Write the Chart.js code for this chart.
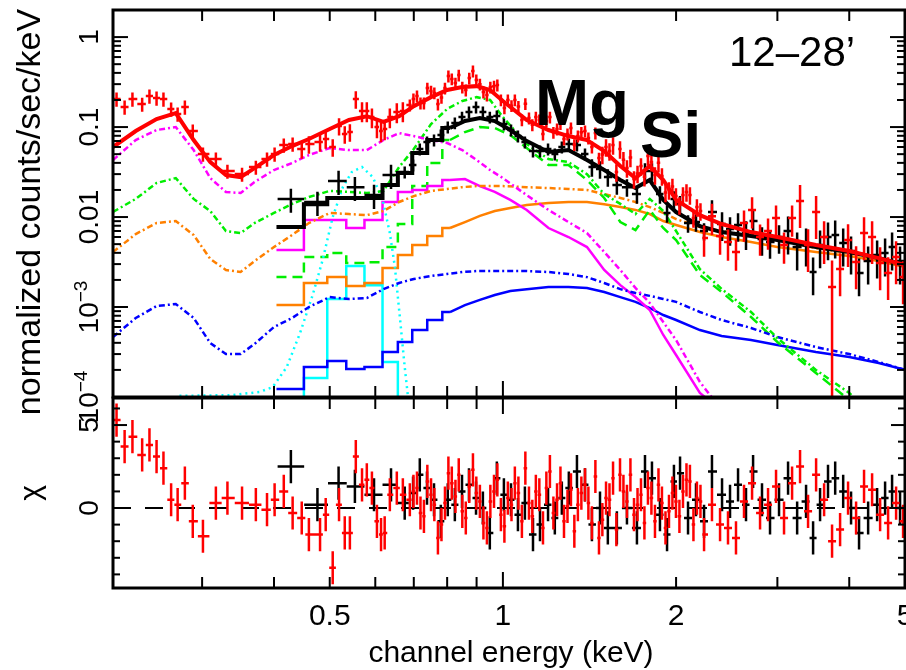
<!DOCTYPE html>
<html>
<head>
<meta charset="utf-8">
<script src="https://cdn.jsdelivr.net/npm/chart.js@4.4.0/dist/chart.umd.min.js"></script>
<style>
  html, body { margin: 0; padding: 0; background: #fff; overflow: hidden; }
  #lienzo { position: relative; width: 906px; height: 670px; }
  canvas { position: absolute; left: 0; top: 0; }
</style>
</head>
<body>
<div id="lienzo">
  <canvas id="espectro" width="906" height="670"></canvas>
  <canvas id="residuos" width="906" height="670"></canvas>
</div>
<script>
// === MODELOS BI (rojo) ===
const energiaBI = [0.21, 0.23, 0.25, 0.27, 0.29, 0.31, 0.33, 0.35, 0.37, 0.40, 0.43, 0.46, 0.50, 0.54, 0.58, 0.62, 0.66, 0.70, 0.75, 0.80,
  0.85, 0.90, 0.95, 1.0, 1.1, 1.2, 1.3, 1.4, 1.5, 1.6, 1.7, 1.8, 1.9, 2.0, 2.2, 2.4, 2.7, 3.0, 3.5, 4.0, 4.5, 5.0];
const modeloRojo = [0.060, 0.0903, 0.123, 0.143, 0.0718, 0.0408, 0.0293, 0.0278, 0.035, 0.0489, 0.0615, 0.0736, 0.095, 0.120, 0.132, 0.114, 0.132, 0.171, 0.215, 0.258,
  0.278, 0.285, 0.258, 0.195, 0.120, 0.0927, 0.0794, 0.0718, 0.054, 0.0369, 0.0271, 0.0369, 0.0258, 0.0155, 0.0105, 0.00836, 0.00681, 0.0060, 0.00489, 0.00419, 0.0035, 0.00293];
const biMagenta = [0.043, 0.0718, 0.0927, 0.1, 0.0555, 0.0271, 0.019, 0.0185, 0.0245, 0.0333, 0.0398, 0.0489, 0.0585, 0.0555, 0.0555, 0.0718, 0.0857, 0.0794, 0.0718, 0.0664,
  0.0555, 0.043, 0.0333, 0.0271, 0.0175, 0.012, 0.0088, 0.00664, 0.00409, 0.00258, 0.00163, 0.00111, 0.00068, 0.00043, 0.000147, 0.0000718, null, null, null, null, null, null];
const biVerde = [0.01137, 0.0159, 0.0239, 0.0271, 0.0159, 0.01166, 0.00699, 0.00664, 0.00858, 0.0111, 0.0140, 0.0167, 0.0195, 0.019, 0.0185, 0.0195, 0.0359, 0.057, 0.108, 0.159,
  0.195, 0.215, 0.200, 0.129, 0.0647, 0.0441, 0.0408, 0.030, 0.018, 0.014, 0.0108, 0.0159, 0.01166, 0.00699, 0.00264, 0.00159, 0.00088, 0.000452, 0.0002, 0.000111, 0.0000556, null];
const biNaranja = [0.00408, 0.00647, 0.00858, 0.00903, 0.00631, 0.00342, 0.00258, 0.00245, 0.00324, 0.00464, 0.00631, 0.00858, 0.0111, 0.0108, 0.0105, 0.01166, 0.0147, 0.0171, 0.0195, 0.0205,
  0.0215, 0.0221, 0.0221, 0.0221, 0.0215, 0.021, 0.0205, 0.020, 0.018, 0.0163, 0.0147, 0.0129, 0.0111, 0.0095, 0.00774, 0.00699, 0.00615, 0.0056, 0.00452, 0.00398, 0.00342, 0.00285];
const biAzul = [4.64e-4, 7.55e-4, 1.026e-3, 1.08e-3, 7.55e-4, 3.98e-4, 3.0e-4, 3.0e-4, 3.88e-4, 6.0e-4, 7.55e-4, 1.0e-3, 1.29e-3, 1.23e-3, 1.26e-3, 1.58e-3, 1.85e-3, 2.05e-3, 2.21e-3, 2.33e-3,
  2.45e-3, 2.51e-3, 2.51e-3, 2.51e-3, 2.51e-3, 2.45e-3, 2.33e-3, 2.15e-3, 1.85e-3, 1.58e-3, 1.43e-3, 1.33e-3, 1.23e-3, 1.14e-3, 8.8e-4, 7.17e-4, 5.85e-4, 4.64e-4, 3.59e-4, 3.0e-4, 2.45e-4, 2.0e-4];
const energiaCyanBI = [0.274, 0.339, 0.378, 0.398, 0.421, 0.444, 0.467, 0.486, 0.506, 0.527, 0.546, 0.569, 0.594, 0.618, 0.636, 0.649, 0.662, 0.675, 0.684, 0.695];
const biCyan = [1.03e-4, 1.05e-4, 1.14e-4, 1.29e-4, 2.15e-4, 5.14e-4, 1.36e-3, 3.33e-3, 0.01, 0.0215, 0.0316, 0.036, 0.0278, 0.0155, 0.00664, 0.00278, 7.74e-4, 2.15e-4, 1.0e-4, 5.5e-5];

// === MODELOS FI (negro) ===
const energiaFI = [0.404, 0.428, 0.475, 0.516, 0.553, 0.597, 0.639, 0.675, 0.717, 0.761, 0.809, 0.859, 0.912, 0.968, 1.03, 1.1, 1.2,
  1.3, 1.4, 1.5, 1.6, 1.7, 1.8, 1.9, 2.0, 2.2, 2.4, 2.7, 3.0, 3.5, 4.0, 4.5, 5.0];
const modeloNegro = [0.00774, 0.00774, 0.0139, 0.0163, 0.0163, 0.0163, 0.0227, 0.0308, 0.0514, 0.0718, 0.0975, 0.1167, 0.126, 0.1167, 0.0927, 0.0699, 0.0528,
  0.0555, 0.043, 0.0333, 0.0258, 0.021, 0.0258, 0.0155, 0.01137, 0.00794, 0.00681, 0.00615, 0.00555, 0.00464, 0.00409, 0.0035, 0.00293];
const fiMagenta = [0.0043, 0.0043, 0.00927, 0.00927, 0.00755, 0.00927, 0.0147, 0.019, 0.020, 0.0221, 0.0258, 0.0264, 0.0221, 0.019, 0.0155, 0.012, 0.00755,
  0.006, 0.00464, 0.00258, 0.00175, 0.00129, 0.000927, 0.000489, 0.000293, 0.000111, 0.00007, null, null, null, null, null, null];
const fiVerde = [0.00215, 0.00215, 0.0036, 0.00398, 0.00308, 0.00315, 0.00464, 0.00836, 0.0221, 0.0398, 0.0718, 0.088, 0.1, 0.0975, 0.0815, 0.0585, 0.0379,
  0.0379, 0.0258, 0.0163, 0.0088, 0.00717, 0.012, 0.00755, 0.00555, 0.00227, 0.00147, 0.000774, 0.000409, 0.000185, 0.0000926, null, null];
const fiNaranja = [0.00105, 0.00105, 0.00185, 0.00215, 0.00171, 0.00185, 0.00271, 0.00378, 0.00489, 0.00615, 0.00755, 0.0088, 0.0103, 0.01167, 0.0126, 0.0136, 0.0143,
  0.0147, 0.0147, 0.0139, 0.0129, 0.012, 0.0108, 0.00904, 0.00815, 0.00681, 0.006, 0.00528, 0.00464, 0.00409, 0.00369, 0.00324, 0.00278];
const fiAzul = [1.23e-4, 1.23e-4, 2.15e-4, 2.51e-4, 2.05e-4, 2.15e-4, 3.16e-4, 4.09e-4, 5.55e-4, 7.17e-4, 8.8e-4, 1.05e-3, 1.2e-3, 1.36e-3, 1.51e-3, 1.58e-3, 1.67e-3,
  1.67e-3, 1.63e-3, 1.47e-3, 1.29e-3, 1.14e-3, 9.75e-4, 8.15e-4, 7.17e-4, 5.55e-4, 4.76e-4, 4.3e-4, 3.78e-4, 3.16e-4, 2.78e-4, 2.39e-4, 2.0e-4];
const fiCyan = [5e-5, 5e-5, 1.63e-4, 1.23e-3, 2.86e-3, 1.75e-3, 2.45e-4, 5e-5, null, null, null];
const CORTE_FI = 10; // hasta aquí los bins anchos se dibujan en escalones

// === DATOS BI (cruces rojas) ===
const rojoE = [0.213, 0.220, 0.227, 0.236, 0.243, 0.250, 0.257, 0.265, 0.272, 0.280, 0.289, 0.301, 0.317, 0.332, 0.352, 0.372, 0.389, 0.401, 0.416, 0.431,
  0.447, 0.460, 0.481, 0.492, 0.506, 0.519, 0.531, 0.542, 0.555, 0.569, 0.580, 0.592, 0.604, 0.614, 0.623, 0.636, 0.654, 0.670,
  0.689, 0.709, 0.729, 0.750, 0.771, 0.793, 0.815, 0.838, 0.862, 0.887, 0.912, 0.938, 0.965, 0.992, 1.020, 1.049, 1.079, 1.110, 1.141, 1.174,
  1.207, 1.242, 1.277, 1.313, 1.350, 1.389, 1.428, 1.469, 1.511, 1.554, 1.598, 1.643, 1.690, 1.738, 1.787, 1.838, 1.890, 1.944, 1.999, 2.056,
  2.114, 2.174, 2.237, 2.309, 2.385, 2.462, 2.542, 2.625, 2.711, 2.799, 2.890, 2.984, 3.081, 3.182, 3.285, 3.392, 3.503, 3.617, 3.734, 3.856,
  3.981, 4.111, 4.244, 4.383, 4.526, 4.673, 4.825, 4.962];
const rojoF = [0.205, 0.167, 0.205, 0.180, 0.221, 0.210, 0.205, 0.159, 0.140, 0.167, 0.0903, 0.0501, 0.0441, 0.0324, 0.0300, 0.0359, 0.0441, 0.0501, 0.0631, 0.0647,
  0.057, 0.0647, 0.0681, 0.0736, 0.060, 0.103, 0.0836, 0.088, 0.205, 0.151, 0.151, 0.129, 0.100, 0.0903, 0.095, 0.129, 0.147, 0.151,
  0.1756, 0.221, 0.185, 0.251, 0.180, 0.271, 0.342, 0.378, 0.258, 0.419, 0.300, 0.227, 0.285, 0.200, 0.200, 0.200, 0.120, 0.126, 0.129, 0.0836,
  0.129, 0.095, 0.0736, 0.0975, 0.0794, 0.0903, 0.060, 0.0452, 0.060, 0.0631, 0.057, 0.035, 0.0264, 0.0369, 0.0476, 0.0293, 0.0286, 0.020, 0.0171, 0.0176,
  0.0176, 0.0129, 0.00585, 0.0102, 0.00615, 0.00528, 0.00408, 0.00858, 0.012, 0.006, 0.00699, 0.00975, 0.00489, 0.00975, 0.0151, 0.00489, 0.0114, 0.006, 0.00167, 0.00264,
  0.00556, 0.00316, 0.00664, 0.006, 0.00308, 0.00239, 0.00359, 0.00215];
const rojoErr = [0.18, 0.18, 0.18, 0.18, 0.18, 0.18, 0.18, 0.18, 0.18, 0.18, 0.18, 0.18, 0.18, 0.18, 0.18, 0.18, 0.18, 0.18, 0.18, 0.18,
  0.22, 0.22, 0.22, 0.22, 0.22, 0.22, 0.22, 0.22, 0.22, 0.25, 0.25, 0.25, 0.25, 0.25, 0.25, 0.25, 0.25, 0.25,
  0.15, 0.15, 0.15, 0.15, 0.15, 0.15, 0.15, 0.15, 0.15, 0.15, 0.15, 0.15, 0.15, 0.15, 0.15, 0.15, 0.15, 0.15, 0.15, 0.15,
  0.15, 0.15, 0.15, 0.15, 0.15, 0.15, 0.15, 0.15, 0.22, 0.22, 0.22, 0.22, 0.22, 0.22, 0.22, 0.22, 0.22, 0.22, 0.22, 0.22,
  0.22, 0.22, 0.38, 0.38, 0.38, 0.38, 0.38, 0.38, 0.38, 0.38, 0.38, 0.38, 0.38, 0.38, 0.5, 0.5, 0.5, 0.5, 0.97, 0.5,
  0.5, 0.5, 0.5, 0.5, 0.5, 0.5, 0.5, 0.5];
const rojoChi = [5.3, 3.7, 4.3, 3.2, 3.8, 3.1, 2.4, 0.5, 0.2, 1.5, -0.8, -1.7, 0.3, 0.6, 0.3, 0.2, -0.1, 0.5, 1.0, -0.3,
  -0.6, -1.6, -1.6, -0.4, -3.6, 0.2, -1.5, -1.5, 3.1, 1.4, 1.7, 1.2, -0.8, -1.6, -1.5, 0.8, 1.2, 0.8,
  0.5, 1.2, -0.5, 0.8, -1.8, 0.3, 1.5, 2.0, -0.6, 2.3, 0.4, -1.2, 1.0, -0.4, 0.6, 1.5, -0.8, 0.3, 1.0, -1.2,
  2.2, 0.5, -0.8, 1.1, 0.2, 1.4, -0.9, -1.8, 0.6, 1.8, 2.0, 0.4, -0.4, 0.8, 1.2, -0.8, 0.3, -0.2, 0.4, 1.0,
  1.6, 0.6, -1.6, 0.2, -1.0, -1.2, -1.8, 0.4, 1.5, -0.3, 0.2, 1.3, -0.6, 1.5, 2.5, -0.2, 2.0, 0.5, -2.0, -1.3,
  0.6, -0.6, 1.3, 1.1, -0.4, -0.9, 0.3, -0.8];
// bins intermedios de la zona densa (0.7-2.2 keV)
const rojoE2 = [0.699, 0.719, 0.739, 0.760, 0.782, 0.804, 0.827, 0.850, 0.874, 0.899, 0.925, 0.951, 0.978, 1.006, 1.035, 1.064, 1.094, 1.125, 1.157, 1.190,
  1.224, 1.259, 1.295, 1.331, 1.369, 1.408, 1.448, 1.489, 1.532, 1.575, 1.620, 1.666, 1.714, 1.762, 1.812, 1.864, 1.917, 1.971, 2.027, 2.085, 2.144, 2.205];
const rojoF2 = [0.205, 0.185, 0.271, 0.239, 0.213, 0.369, 0.308, 0.278, 0.350, 0.333, 0.245, 0.278, 0.293, 0.163, 0.173, 0.169, 0.182, 0.106, 0.120, 0.117,
  0.0873, 0.109, 0.0836, 0.0638, 0.0873, 0.0755, 0.0858, 0.0494, 0.0541, 0.0316, 0.0432, 0.0459, 0.0305, 0.0281, 0.0410, 0.0400, 0.0187, 0.0219, 0.0136, 0.0190, 0.00975, 0.01166];
const rojoErr2 = [0.15, 0.15, 0.15, 0.15, 0.15, 0.15, 0.15, 0.15, 0.15, 0.15, 0.15, 0.15, 0.15, 0.15, 0.15, 0.15, 0.15, 0.15, 0.15, 0.15,
  0.15, 0.15, 0.15, 0.15, 0.15, 0.15, 0.15, 0.22, 0.22, 0.22, 0.22, 0.22, 0.22, 0.22, 0.22, 0.22, 0.22, 0.22, 0.22, 0.22, 0.22, 0.22];
const rojoChi2 = [1.0, -0.3, 1.6, 0.2, -1.0, 2.1, 0.7, -0.2, 1.3, 0.9, -0.9, 0.4, 1.7, -1.1, 0.2, 0.9, 2.4, -0.5, 0.8, 1.2,
  -0.3, 1.5, 0.1, -1.4, 0.9, 0.3, 1.9, -0.7, 0.5, -1.3, 1.0, 2.0, 0.2, -0.9, 0.6, 1.4, -1.2, 0.9, -0.5, 1.7, -1.0, 0.4];

// === DATOS FI (cruces negras) ===
const negroE = [0.428, 0.476, 0.518, 0.553, 0.597, 0.639, 0.675, 0.698, 0.717, 0.738, 0.759, 0.780, 0.802, 0.825, 0.849, 0.873, 0.898, 0.923, 0.949, 0.976,
  1.004, 1.033, 1.062, 1.092, 1.128, 1.160, 1.198, 1.231, 1.266, 1.302, 1.345, 1.389, 1.428, 1.475, 1.522, 1.578, 1.643, 1.710, 1.766, 1.816,
  1.875, 1.929, 1.983, 2.032, 2.098, 2.166, 2.237, 2.309, 2.404, 2.482, 2.563, 2.646, 2.722, 2.821, 2.913, 3.020, 3.131, 3.247, 3.365, 3.461,
  3.559, 3.674, 3.781, 3.904, 4.029, 4.160, 4.314, 4.472, 4.617, 4.748, 4.902];
const negroF = [0.0159, 0.0147, 0.0251, 0.0215, 0.0176, 0.0293, 0.0316, 0.0378, 0.057, 0.0681, 0.0717, 0.0815, 0.100, 0.111, 0.129, 0.147, 0.167, 0.147, 0.129, 0.1325,
  0.108, 0.0926, 0.0794, 0.0681, 0.0541, 0.0541, 0.057, 0.0501, 0.060, 0.0647, 0.0631, 0.0501, 0.0359, 0.0342, 0.0278, 0.0227, 0.0215, 0.018, 0.0324, 0.0324,
  0.018, 0.0111, 0.0159, 0.0140, 0.00858, 0.0088, 0.00699, 0.0114, 0.00836, 0.00736, 0.00815, 0.00664, 0.00903, 0.0057, 0.00528, 0.006, 0.00699, 0.00464, 0.00514, 0.00245,
  0.00489, 0.006, 0.00631, 0.00514, 0.00419, 0.00239, 0.00324, 0.00378, 0.00398, 0.00464, 0.00324];
const negroErr = [0.3, 0.3, 0.3, 0.3, 0.3, 0.3, 0.15, 0.15, 0.15, 0.15, 0.15, 0.15, 0.15, 0.15, 0.15, 0.15, 0.15, 0.15, 0.15, 0.15,
  0.15, 0.15, 0.15, 0.15, 0.15, 0.15, 0.15, 0.15, 0.15, 0.15, 0.15, 0.15, 0.22, 0.22, 0.22, 0.22, 0.22, 0.22, 0.22, 0.22,
  0.22, 0.22, 0.22, 0.22, 0.22, 0.22, 0.22, 0.35, 0.35, 0.35, 0.35, 0.35, 0.35, 0.35, 0.35, 0.35, 0.45, 0.45, 0.45, 0.45,
  0.45, 0.45, 0.45, 0.45, 0.45, 0.45, 0.45, 0.45, 0.45, 0.45, 0.45];
const negroChi = [2.5, 0.2, 1.5, 1.3, 0.8, 1.4, 0.3, 0.9, 2.0, 1.2, 0.5, -0.8, 0.5, 0.2, 1.0, 1.4, 0.6, 0, -1.5, 1.8,
  0.8, 0.5, -0.4, 0.3, -1.6, -1.0, 0.2, -0.6, 0.6, 1.2, 2.2, 1.4, -1.0, 0, -1.2, -1.2, 0, -1.2, 2.2, 1.8,
  -0.4, -1.6, 1.6, 2.1, -0.6, 0.5, -0.8, 2.2, 0.8, 0.4, 1.4, 0.2, 2.2, 0.5, -0.6, 0.5, 1.8, -0.6, 0.4, -1.8,
  0.2, 1.6, 1.8, 1.0, 0, -1.5, -0.6, 0.2, 0.6, 1.0, 0];

// === EJES ===
const marcasX = [0.3, 0.4, 0.5, 0.6, 0.7, 0.8, 0.9, 1, 2, 3, 4, 5];
const etiquetasX = [[0.5, "0.5"], [1, "1"], [2, "2"], [5, "5"]];
const etiquetasY = [[1, "1", ""], [0.1, "0.1", ""], [0.01, "0.01", ""], [0.001, "10", "\u22123"], [0.0001, "10", "\u22124"]];
const etiquetasChi = [[0, "0"], [5, "5"]];

const FUENTE = '"Liberation Sans", Arial, Helvetica, sans-serif';

// --- utilidades ---
const serie = (E, V) => V.map((v, i) => ({ x: E[i], y: v }));

// junta los dos juegos de bins rojos en orden de energía
function juntar(E1, E2, ...pares) {
  const idx = E1.map((e, i) => [e, 0, i]).concat(E2.map((e, i) => [e, 1, i])).sort((a, b) => a[0] - b[0]);
  return [idx.map(p => p[0]), ...pares.map(([a, b]) => idx.map(p => (p[1] ? b : a)[p[2]]))];
}
const [rojoEt, rojoFt, rojoErrt, rojoChit] = juntar(rojoE, rojoE2, [rojoF, rojoF2], [rojoErr, rojoErr2], [rojoChi, rojoChi2]);

function bordes(E) {
  return E.map((e, i) => {
    const prev = i > 0 ? E[i - 1] : e * e / E[i + 1];
    const next = i < E.length - 1 ? E[i + 1] : e * e / E[i - 1];
    return [Math.sqrt(prev * e), Math.sqrt(e * next)];
  });
}

function barrasFlujo(E, F, err) {
  const b = bordes(E);
  return E.map((e, i) => ({ x: e, y: F[i], x0: b[i][0], x1: b[i][1],
    y0: Math.max(F[i] * (1 - err[i]), 1e-7), y1: F[i] * (1 + err[i]) }));
}

function barrasChi(E, C) {
  const b = bordes(E);
  return E.map((e, i) => ({ x: e, y: C[i], x0: b[i][0], x1: b[i][1], y0: C[i] - 1, y1: C[i] + 1 }));
}

function linea(ctx, x0, y0, x1, y1) {
  ctx.beginPath(); ctx.moveTo(x0, y0); ctx.lineTo(x1, y1); ctx.stroke();
}

function textoRotado(ctx, x, y, base, exp, size) {
  ctx.save();
  ctx.translate(x, y);
  ctx.rotate(-Math.PI / 2);
  ctx.textAlign = "left";
  ctx.textBaseline = "alphabetic";
  ctx.font = size + "px " + FUENTE;
  const w1 = ctx.measureText(base).width;
  let w2 = 0;
  const chico = Math.round(size * 0.68);
  if (exp) { ctx.font = chico + "px " + FUENTE; w2 = ctx.measureText(exp).width; }
  const x0 = -(w1 + w2) / 2;
  ctx.font = size + "px " + FUENTE;
  ctx.fillText(base, x0, 0);
  if (exp) { ctx.font = chico + "px " + FUENTE; ctx.fillText(exp, x0 + w1, -size * 0.4); }
  ctx.restore();
}

function ticksX(ctx, xs, a) {
  marcasX.forEach(v => {
    const px = xs.getPixelForValue(v);
    const largo = v === 1 ? 16 : 11;
    linea(ctx, px, a.bottom, px, a.bottom - largo);
    linea(ctx, px, a.top, px, a.top + largo);
  });
}

// barras de error dibujadas con las escalas de la gráfica
const barrasError = {
  id: "barrasError",
  afterDatasetDraw(chart, args) {
    const ds = chart.data.datasets[args.index];
    if (!ds.barras) return;
    const { ctx, chartArea: a } = chart;
    const xs = chart.scales.x, ys = chart.scales.y;
    ctx.save();
    ctx.beginPath();
    ctx.rect(a.left, a.top, a.right - a.left, a.bottom - a.top);
    ctx.clip();
    ctx.strokeStyle = ds.borderColor;
    ctx.lineWidth = ds.grosorBarra;
    ctx.beginPath();
    ds.barras.forEach(b => {
      const px = xs.getPixelForValue(b.x), py = ys.getPixelForValue(b.y);
      ctx.moveTo(xs.getPixelForValue(b.x0), py);
      ctx.lineTo(xs.getPixelForValue(b.x1), py);
      ctx.moveTo(px, ys.getPixelForValue(b.y0));
      ctx.lineTo(px, ys.getPixelForValue(b.y1));
    });
    ctx.stroke();
    ctx.restore();
  }
};

// marco, marcas y textos del panel superior
const marcoEspectro = {
  id: "marcoEspectro",
  afterDraw(chart) {
    const { ctx, chartArea: a } = chart;
    const xs = chart.scales.x, ys = chart.scales.y;
    ctx.save();
    ctx.strokeStyle = "#000";
    ctx.fillStyle = "#000";
    ctx.lineWidth = 2;
    ticksX(ctx, xs, a);
    for (let d = -4; d <= 0; d++) {
      for (let m = 1; m <= 9; m++) {
        const v = m * Math.pow(10, d);
        if (v > ys.max) break;
        const py = ys.getPixelForValue(v);
        const largo = m === 1 ? 15 : 8;
        linea(ctx, a.left, py, a.left + largo, py);
        linea(ctx, a.right, py, a.right - largo, py);
      }
    }
    ctx.lineWidth = 3;
    ctx.strokeRect(a.left, a.top, a.right - a.left, a.bottom - a.top);

    etiquetasY.forEach(([v, base, exp]) => textoRotado(ctx, 98, ys.getPixelForValue(v), base, exp, 28));
    textoRotado(ctx, 40, 212, "normalized counts/sec/keV", "", 34);

    ctx.textAlign = "left";
    ctx.textBaseline = "alphabetic";
    ctx.font = "42px " + FUENTE;
    ctx.fillText("12\u201328\u2019", 729, 66);
    ctx.font = "bold 65px " + FUENTE;
    ctx.fillText("Mg", 535, 125);
    ctx.fillText("Si", 640, 157);
    ctx.restore();
  }
};

// marco, marcas y textos del panel de residuos
const marcoResiduos = {
  id: "marcoResiduos",
  afterDraw(chart) {
    const { ctx, chartArea: a } = chart;
    const xs = chart.scales.x, ys = chart.scales.y;
    ctx.save();
    ctx.strokeStyle = "#000";
    ctx.fillStyle = "#000";
    ctx.lineWidth = 2;
    ticksX(ctx, xs, a);
    for (let c = -4; c <= 6; c++) {
      const py = ys.getPixelForValue(c);
      const largo = (c === 0 || c === 5) ? 14 : 7;
      linea(ctx, a.left, py, a.left + largo, py);
      linea(ctx, a.right, py, a.right - largo, py);
    }
    ctx.lineWidth = 3;
    ctx.strokeRect(a.left, a.top, a.right - a.left, a.bottom - a.top);

    ctx.textAlign = "center";
    ctx.textBaseline = "alphabetic";
    ctx.font = "30px " + FUENTE;
    etiquetasX.forEach(([v, t]) => ctx.fillText(t, xs.getPixelForValue(v), 625));
    ctx.fillText("channel energy (keV)", 511, 662);

    etiquetasChi.forEach(([v, t]) => textoRotado(ctx, 98, ys.getPixelForValue(v), t, "", 28));
    textoRotado(ctx, 40, 493, "\u03c7", "", 30);
    ctx.restore();
  }
};

// --- estilos ---
const PUNTEADO = [6, 3, 2, 3];
function modelo(data, color, ancho, dash, orden, escalon) {
  return { data, borderColor: color, borderWidth: ancho, borderDash: dash || [], order: orden,
    stepped: escalon || false, pointRadius: 0, fill: false, spanGaps: false, clip: 0 };
}
function cruces(barras, color, orden) {
  return { data: barras.map(b => ({ x: b.x, y: b.y })), barras, grosorBarra: 2.5, borderColor: color,
    showLine: false, pointRadius: 0, order: orden };
}
function tramoFI(V, color, ancho, dash, orden) {
  const baja = serie(energiaFI.slice(0, CORTE_FI + 1), V.slice(0, CORTE_FI + 1));
  const alta = serie(energiaFI.slice(CORTE_FI), V.slice(CORTE_FI));
  return [modelo(baja, color, ancho, dash, orden, "middle"), modelo(alta, color, ancho, dash, orden)];
}

const opcionesBase = (padding, yEscala) => ({
  responsive: false,
  animation: false,
  events: [],
  layout: { padding },
  plugins: { legend: { display: false }, tooltip: { enabled: false } },
  scales: {
    x: { type: "logarithmic", min: 0.21, max: 5, display: false, bounds: "data" },
    y: yEscala
  }
});

// === PANEL SUPERIOR ===
new Chart(document.getElementById("espectro").getContext("2d"), {
  type: "line",
  data: {
    datasets: [
      modelo(serie(energiaBI, modeloRojo), "#ff0000", 4, null, 0),
      cruces(barrasFlujo(rojoEt, rojoFt, rojoErrt), "#ff0000", 1),
      ...tramoFI(modeloNegro, "#000000", 4, null, 2),
      cruces(barrasFlujo(negroE, negroF, negroErr), "#000000", 3),
      modelo(serie(energiaBI, biMagenta), "#ff00ff", 2.5, PUNTEADO, 5),
      modelo(serie(energiaBI, biVerde), "#00ee00", 2.5, PUNTEADO, 5),
      modelo(serie(energiaBI, biNaranja), "#ff8000", 2.5, PUNTEADO, 5),
      modelo(serie(energiaBI, biAzul), "#0000ff", 2.5, PUNTEADO, 5),
      modelo(serie(energiaCyanBI, biCyan), "#00ffff", 2.5, [2, 4], 5),
      ...tramoFI(fiMagenta, "#ff00ff", 2.5, null, 6),
      ...tramoFI(fiVerde, "#00ee00", 2.5, [10, 6], 6),
      ...tramoFI(fiNaranja, "#ff8000", 2.5, null, 6),
      ...tramoFI(fiAzul, "#0000ff", 2.5, null, 6),
      modelo(serie(energiaFI, fiCyan), "#00ffff", 2.5, null, 6, "middle")
    ]
  },
  options: opcionesBase({ left: 113, right: 1, top: 10, bottom: 273 },
    { type: "logarithmic", min: 1e-4, max: 2, display: false, bounds: "data" }),
  plugins: [barrasError, marcoEspectro]
});

// === PANEL DE RESIDUOS ===
new Chart(document.getElementById("residuos").getContext("2d"), {
  type: "line",
  data: {
    datasets: [
      cruces(barrasChi(rojoEt, rojoChit), "#ff0000", 0),
      cruces(barrasChi(negroE, negroChi), "#000000", 1),
      modelo([{ x: 0.21, y: 0 }, { x: 5, y: 0 }], "#000000", 2, [18, 14], 2)
    ]
  },
  options: opcionesBase({ left: 113, right: 1, top: 398, bottom: 82 },
    { type: "linear", min: -4.82, max: 6.63, display: false, bounds: "data" }),
  plugins: [barrasError, marcoResiduos]
});
</script>
</body>
</html>
